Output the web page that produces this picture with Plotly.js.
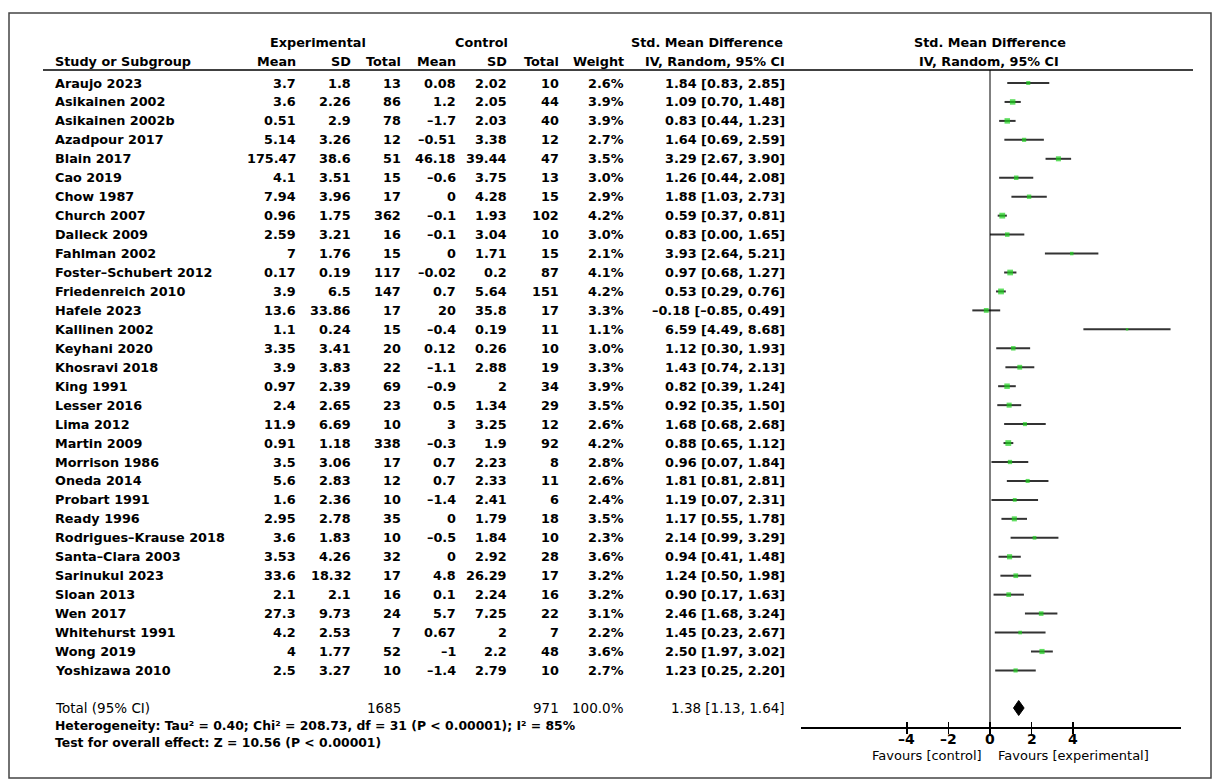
<!DOCTYPE html>
<html>
<head>
<meta charset="utf-8">
<script src="https://cdn.plot.ly/plotly-3.0.1.min.js"></script>
<style>html,body{margin:0;padding:0;background:#fff;}#chart{width:1218px;height:780px;}</style>
</head>
<body>
<div id="chart"></div>
<script>
// ---------------- DATA ----------------
const studies = ["Araujo 2023","Asikainen 2002","Asikainen 2002b","Azadpour 2017","Blain 2017","Cao 2019","Chow 1987","Church 2007","Dalleck 2009","Fahlman 2002","Foster–Schubert 2012","Friedenreich 2010","Hafele 2023","Kallinen 2002","Keyhani 2020","Khosravi 2018","King 1991","Lesser 2016","Lima 2012","Martin 2009","Morrison 1986","Oneda 2014","Probart 1991","Ready 1996","Rodrigues–Krause 2018","Santa–Clara 2003","Sarinukul 2023","Sloan 2013","Wen 2017","Whitehurst 1991","Wong 2019","Yoshizawa 2010"];
const expMean = [3.7,3.6,0.51,5.14,175.47,4.1,7.94,0.96,2.59,7,0.17,3.9,13.6,1.1,3.35,3.9,0.97,2.4,11.9,0.91,3.5,5.6,1.6,2.95,3.6,3.53,33.6,2.1,27.3,4.2,4,2.5];
const expSD   = [1.8,2.26,2.9,3.26,38.6,3.51,3.96,1.75,3.21,1.76,0.19,6.5,33.86,0.24,3.41,3.83,2.39,2.65,6.69,1.18,3.06,2.83,2.36,2.78,1.83,4.26,18.32,2.1,9.73,2.53,1.77,3.27];
const expN    = [13,86,78,12,51,15,17,362,16,15,117,147,17,15,20,22,69,23,10,338,17,12,10,35,10,32,17,16,24,7,52,10];
const ctrlMean= [0.08,1.2,-1.7,-0.51,46.18,-0.6,0,-0.1,-0.1,0,-0.02,0.7,20,-0.4,0.12,-1.1,-0.9,0.5,3,-0.3,0.7,0.7,-1.4,0,-0.5,0,4.8,0.1,5.7,0.67,-1,-1.4];
const ctrlSD  = [2.02,2.05,2.03,3.38,39.44,3.75,4.28,1.93,3.04,1.71,0.2,5.64,35.8,0.19,0.26,2.88,2,1.34,3.25,1.9,2.23,2.33,2.41,1.79,1.84,2.92,26.29,2.24,7.25,2,2.2,2.79];
const ctrlN   = [10,44,40,12,47,13,15,102,10,15,87,151,17,11,10,19,34,29,12,92,8,11,6,18,10,28,17,16,22,7,48,10];
const weight  = [2.6,3.9,3.9,2.7,3.5,3.0,2.9,4.2,3.0,2.1,4.1,4.2,3.3,1.1,3.0,3.3,3.9,3.5,2.6,4.2,2.8,2.6,2.4,3.5,2.3,3.6,3.2,3.2,3.1,2.2,3.6,2.7];
const smd     = [1.84,1.09,0.83,1.64,3.29,1.26,1.88,0.59,0.83,3.93,0.97,0.53,-0.18,6.59,1.12,1.43,0.82,0.92,1.68,0.88,0.96,1.81,1.19,1.17,2.14,0.94,1.24,0.90,2.46,1.45,2.50,1.23];
const ciLow   = [0.83,0.70,0.44,0.69,2.67,0.44,1.03,0.37,0.00,2.64,0.68,0.29,-0.85,4.49,0.30,0.74,0.39,0.35,0.68,0.65,0.07,0.81,0.07,0.55,0.99,0.41,0.50,0.17,1.68,0.23,1.97,0.25];
const ciHigh  = [2.85,1.48,1.23,2.59,3.90,2.08,2.73,0.81,1.65,5.21,1.27,0.76,0.49,8.68,1.93,2.13,1.24,1.50,2.68,1.12,1.84,2.81,2.31,1.78,3.29,1.48,1.98,1.63,3.24,2.67,3.02,2.20];

const totalExpN = 1685, totalCtrlN = 971, totalWeight = 100.0;
const totalSmd = 1.38, totalLow = 1.13, totalHigh = 1.64;
const heterogeneityText = "Heterogeneity: Tau² = 0.40; Chi² = 208.73, df = 31 (P < 0.00001); I² = 85%";
const overallText = "Test for overall effect: Z = 10.56 (P < 0.00001)";
const tickVals = [-4,-2,0,2,4];
const tickLabels = ["–4","–2","0","2","4"];
const favoursLeft = "Favours [control]", favoursRight = "Favours [experimental]";

// ---------------- LAYOUT HELPERS ----------------
const W = 1218, H = 780;
const ROW0 = 83, ROWH = 18.95;
const rowOfPx = p => (p - ROW0) / ROWH;
const px = v => v / W;
const FONT = "DejaVu Sans";
const FS = 12.8;
const dash = s => String(s).replace(/-/g, "–");
const f2 = v => dash(v.toFixed(2));

const annotations = [];
function txt(text, xPx, row, anchor, bold, size) {
  annotations.push({
    text: text, xref: "paper", yref: "y", x: px(xPx), y: row,
    xanchor: anchor, yanchor: "middle", showarrow: false,
    font: {family: FONT, size: size || FS, color: "#000", weight: bold ? "bold" : "normal"},
    borderpad: 0
  });
}

const COL = {name:54, eMean:297, eSD:352, eN:402, cMean:457, cSD:508, cN:560, w:625, ci:786};

// headers
const h1 = rowOfPx(42), h2 = rowOfPx(61);
txt("Experimental", 318, h1, "center", true);
txt("Control", 481, h1, "center", true);
txt("Std. Mean Difference", 707, h1, "center", true);
txt("Std. Mean Difference", 990, h1, "center", true);
txt("Study or Subgroup", COL.name, h2, "left", true);
txt("Mean", COL.eMean, h2, "right", true);
txt("SD", COL.eSD, h2, "right", true);
txt("Total", COL.eN, h2, "right", true);
txt("Mean", COL.cMean, h2, "right", true);
txt("SD", COL.cSD, h2, "right", true);
txt("Total", COL.cN, h2, "right", true);
txt("Weight", COL.w, h2, "right", true);
txt("IV, Random, 95% CI", 715, h2, "center", true);
txt("IV, Random, 95% CI", 989, h2, "center", true);

// study rows
studies.forEach((s, i) => {
  txt(s, COL.name, i, "left", true);
  txt(dash(expMean[i]), COL.eMean, i, "right", true);
  txt(dash(expSD[i]), COL.eSD, i, "right", true);
  txt(String(expN[i]), COL.eN, i, "right", true);
  txt(dash(ctrlMean[i]), COL.cMean, i, "right", true);
  txt(dash(ctrlSD[i]), COL.cSD, i, "right", true);
  txt(String(ctrlN[i]), COL.cN, i, "right", true);
  txt(weight[i].toFixed(1) + "%", COL.w, i, "right", true);
  txt(f2(smd[i]) + " [" + f2(ciLow[i]) + ", " + f2(ciHigh[i]) + "]", COL.ci, i, "right", true);
});

// totals
const tRow = rowOfPx(708);
txt("Total (95% CI)", COL.name, tRow, "left", false, 13.5);
txt(String(totalExpN), COL.eN, tRow, "right", false, 13.5);
txt(String(totalCtrlN), COL.cN, tRow, "right", false, 13.5);
txt(totalWeight.toFixed(1) + "%", COL.w, tRow, "right", false, 13.5);
txt(f2(totalSmd) + " [" + f2(totalLow) + ", " + f2(totalHigh) + "]", COL.ci, tRow, "right", false, 13.5);
txt(heterogeneityText, COL.name, rowOfPx(725), "left", true, 12.4);
txt(overallText, COL.name, rowOfPx(742), "left", true, 12.4);

// tick labels (drawn at the axis tick values)
tickVals.forEach((v, k) => {
  annotations.push({text: tickLabels[k], xref: "x", yref: "paper", x: v, y: 1 - 739/H,
    xanchor: "center", yanchor: "middle", showarrow: false,
    font: {family: FONT, size: 14, color: "#000", weight: "bold"}});
});

// favours labels
annotations.push({text: favoursLeft, xref: "x", yref: "paper", x: 0, y: 1 - 755/H, xanchor: "right", yanchor: "middle",
  xshift: -6, showarrow: false, font: {family: FONT, size: 13, color: "#000"}});
annotations.push({text: favoursRight, xref: "x", yref: "paper", x: 0, y: 1 - 755/H, xanchor: "left", yanchor: "middle",
  xshift: 6, showarrow: false, font: {family: FONT, size: 13, color: "#000"}});

// ---------------- TRACES ----------------
const traces = [];
// CI lines
const lx = [], ly = [];
studies.forEach((s, i) => { lx.push(ciLow[i], ciHigh[i], null); ly.push(i, i, null); });
traces.push({type: "scatter", mode: "lines", x: lx, y: ly, line: {color: "#333", width: 2}, hoverinfo: "skip", showlegend: false});
// point estimates
traces.push({type: "scatter", mode: "markers", x: smd, y: studies.map((s, i) => i),
  marker: {symbol: "square", color: "#1ed21e", size: weight.map(w => 1.2 + w * 1.1), line: {width: 0}},
  showlegend: false, hoverinfo: "x"});
// diamond
const d = 7.5 / ROWH;
traces.push({type: "scatter", mode: "lines", x: [totalLow, totalSmd, totalHigh, totalSmd, totalLow],
  y: [tRow, tRow - d, tRow, tRow + d, tRow], fill: "toself", fillcolor: "#000",
  line: {color: "#000", width: 1}, showlegend: false, hoverinfo: "skip"});

const xDomain = [px(801), px(1181)];
const xRange = [(801 - 990) / 20.8, (1181 - 990) / 20.8];
const axisPos = 1 - 727 / H;

const layout = {
  width: W, height: H, margin: {l: 0, r: 0, t: 0, b: 0},
  paper_bgcolor: "#fff", plot_bgcolor: "rgba(0,0,0,0)",
  showlegend: false,
  xaxis: {domain: xDomain, range: xRange, anchor: "free", position: axisPos,
    showline: true, linecolor: "#000", linewidth: 1.5, showgrid: false, zeroline: false,
    ticks: "outside", ticklen: 5, tickwidth: 1.5, tickcolor: "#000",
    tickmode: "array", tickvals: tickVals, showticklabels: false, fixedrange: true},
  xaxis2: {domain: xDomain, matches: "x", overlaying: "x", anchor: "free", position: axisPos,
    showline: false, showgrid: false, zeroline: false, ticks: "inside", ticklen: 5, tickwidth: 1.5,
    tickcolor: "#000", tickmode: "array", tickvals: tickVals, showticklabels: false},
  yaxis: {domain: [0, 1], range: [rowOfPx(H), rowOfPx(0)], visible: false, fixedrange: true},
  annotations: annotations,
  shapes: [
    {type: "rect", xref: "paper", yref: "paper", x0: px(9), x1: px(1211), y0: 1 - 778/H, y1: 1 - 13/H,
      line: {color: "#444", width: 1.5}},
    {type: "line", xref: "paper", yref: "paper", x0: px(43), x1: px(1193), y0: 1 - 70/H, y1: 1 - 70/H,
      line: {color: "#000", width: 1.5}},
    {type: "line", xref: "x", yref: "paper", x0: 0, x1: 0, y0: axisPos, y1: 1 - 70/H,
      line: {color: "#000", width: 1}}
  ]
};
// dummy trace on xaxis2 so it renders
traces.push({type: "scatter", x: [0], y: [0], xaxis: "x2", mode: "markers", marker: {opacity: 0}, hoverinfo: "skip", showlegend: false});

Plotly.newPlot("chart", traces, layout, {displayModeBar: false, staticPlot: true});
</script>
</body>
</html>
